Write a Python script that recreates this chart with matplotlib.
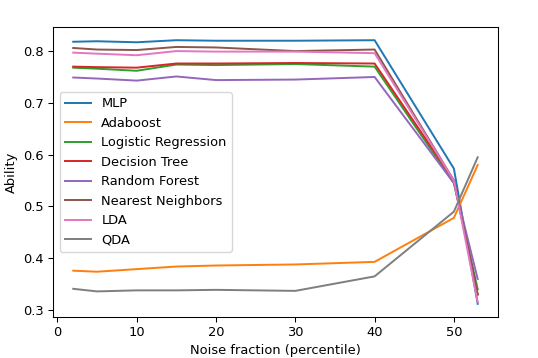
import matplotlib
matplotlib.use("Agg")
import matplotlib.pyplot as plt

noise = [2, 5, 10, 15, 20, 30, 40, 50, 53]

mlp = [0.818, 0.819, 0.817, 0.821, 0.820, 0.820, 0.821, 0.573, 0.312]
adaboost = [0.376, 0.374, 0.379, 0.384, 0.386, 0.388, 0.393, 0.478, 0.580]
logreg = [0.768, 0.766, 0.762, 0.774, 0.773, 0.775, 0.770, 0.545, 0.340]
tree = [0.770, 0.769, 0.768, 0.776, 0.776, 0.777, 0.776, 0.550, 0.330]
forest = [0.749, 0.747, 0.743, 0.751, 0.744, 0.745, 0.750, 0.545, 0.360]
neighbors = [0.806, 0.803, 0.802, 0.808, 0.807, 0.800, 0.803, 0.550, 0.330]
lda = [0.797, 0.795, 0.792, 0.800, 0.799, 0.799, 0.796, 0.550, 0.315]
qda = [0.341, 0.336, 0.338, 0.338, 0.339, 0.337, 0.365, 0.490, 0.595]

series = [
    ("MLP", mlp),
    ("Adaboost", adaboost),
    ("Logistic Regression", logreg),
    ("Decision Tree", tree),
    ("Random Forest", forest),
    ("Nearest Neighbors", neighbors),
    ("LDA", lda),
    ("QDA", qda),
]

# rendered a bit smaller than default, like the reference
fig = plt.figure(figsize=(538 / 94, 358 / 94), dpi=94)
ax = fig.add_axes([0.0985, 0.1145, 0.827, 0.810])
for name, vals in series:
    ax.plot(noise, vals, label=name)
ax.set_xlabel("Noise fraction (percentile)")
ax.set_ylabel("Ability")
ax.legend(loc="center left")
fig.savefig("out.png", dpi=94)
